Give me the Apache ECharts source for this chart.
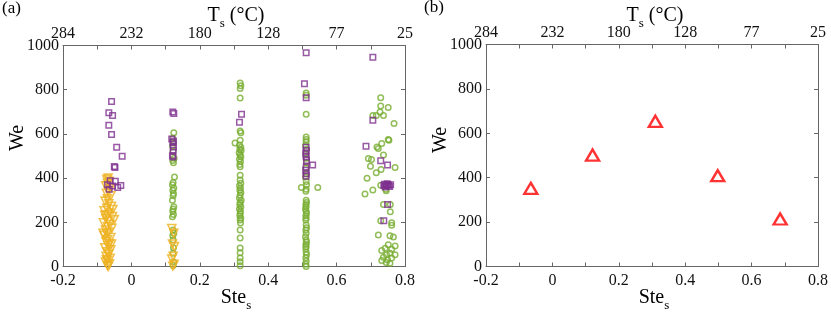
<!DOCTYPE html>
<html>
<head>
<meta charset="utf-8">
<script src="https://cdn.jsdelivr.net/npm/echarts@6/dist/echarts.min.js"></script>
<style>html,body{margin:0;padding:0;background:#fff}#c{width:831px;height:312px}</style>
</head>
<body>
<div id="c"></div>
<script>
// ---- data ----
const xTicksBottom = [-0.2, 0, 0.2, 0.4, 0.6, 0.8];
const tsTickLabels = ['284', '232', '180', '128', '77', '25'];

// Panel (a): yellow open down-triangles
const yellowX = [-0.068,-0.072,-0.065,-0.070,-0.075,-0.062,-0.068,-0.073,-0.060,-0.070,-0.077,-0.066,-0.058,-0.072,-0.080,-0.064,-0.070,-0.055,-0.075,-0.068,-0.082,-0.062,-0.070,-0.057,-0.076,-0.066,-0.072,-0.080,-0.060,-0.070,-0.074,-0.064,-0.068,-0.078,-0.060,-0.072,-0.066,-0.074,-0.062,-0.070,-0.076,-0.064,-0.070,-0.068,-0.054,-0.078,-0.050,-0.083,-0.058,-0.073,
  0.118,0.124,0.120,0.126,0.122,0.118,0.125,0.121];
const yellowY = [400,393,386,376,365,352,342,331,320,306,296,284,272,263,252,242,234,226,216,206,198,190,181,173,165,156,148,140,131,121,112,104,95,85,76,66,56,46,37,28,20,12,5,0,258,232,212,150,102,30,
  172,150,102,90,46,34,10,2];

// Panel (a): purple open squares
const purpleX = [-0.058,-0.066,-0.055,-0.066,-0.058,-0.043,-0.027,-0.050,-0.048,-0.062,-0.047,-0.070,-0.031,-0.055,-0.040,-0.065,
  0.121,0.124,0.118,0.123,0.121,0.123,0.122,0.120,0.122,
  0.322,0.316,
  0.511,0.506,0.511,0.511,0.511,0.510,0.511,0.512,0.530,0.511,0.510,0.511,0.511,
  0.706,0.706,0.686,0.729,0.749,0.740,0.745,0.750,0.755,0.748,0.742,0.752,0.758,0.745,0.738,0.749,0.738];
const purpleY = [747,696,683,639,597,540,499,453,448,388,386,370,367,364,358,350,
  699,692,577,568,561,541,526,501,496,
  689,653,
  967,827,764,540,525,510,495,480,459,450,435,420,408,
  947,662,544,478,459,372,365,370,362,375,360,368,370,368,366,280,207];

// Panel (a): green open circles
const greenX = [0.124,0.121,0.123,0.120,0.122,0.125,0.121,0.123,0.126,0.122,0.120,0.124,0.121,0.123,0.122,0.120,0.124,0.122,0.121,0.123,0.120,0.122,0.124,0.121,0.122,0.123,0.122,0.124,0.122,
  0.318,0.320,0.318,0.318,0.318,0.320,0.318,0.303,0.316,0.320,0.317,0.321,0.315,0.318,0.320,0.316,0.319,0.317,0.318,0.318,0.318,0.320,0.316,0.319,0.317,0.320,0.318,0.316,0.321,0.318,0.317,0.320,0.316,0.319,0.318,0.317,0.320,0.318,0.319,0.318,0.318,0.318,0.318,0.318,0.318,0.318,
  0.511,0.511,0.511,0.511,0.511,0.511,0.509,0.512,0.510,0.511,0.512,0.510,0.511,0.509,0.511,0.512,0.497,0.545,0.511,0.510,0.511,0.512,0.510,0.511,0.509,0.511,0.512,0.510,0.511,0.510,0.511,0.512,0.510,0.511,0.509,0.511,0.512,0.510,0.511,0.510,0.511,0.512,0.510,0.511,0.510,0.511,
  0.729,0.729,0.751,0.727,0.716,0.706,0.737,0.768,0.753,0.751,0.732,0.718,0.722,0.737,0.693,0.702,0.699,0.771,0.730,0.716,0.689,0.706,0.683,0.729,0.744,0.745,0.737,0.757,0.757,0.729,0.761,0.761,0.722,0.756,0.766,
  0.751,0.771,0.742,0.761,0.732,0.756,0.771,0.746,0.737,0.761,0.749,0.732,0.745,0.756];
const greenY = [605,580,560,545,520,490,480,470,405,380,370,355,345,330,320,300,270,260,250,235,225,165,150,140,120,85,60,20,5,
  830,818,805,762,613,605,571,559,550,540,530,525,515,505,495,485,475,462,451,413,391,377,365,355,345,335,322,310,300,290,280,270,260,250,240,230,220,210,197,165,129,84,62,39,21,3,
  785,775,689,586,575,564,548,530,510,490,470,445,420,405,385,370,358,358,350,340,300,290,280,270,260,250,240,230,220,210,188,175,165,150,135,120,110,100,90,80,65,53,40,25,10,0,
  764,726,719,699,683,683,683,647,571,575,557,541,534,504,489,484,454,448,439,424,399,346,328,368,349,343,280,280,248,207,198,187,143,139,133,
  98,93,83,78,72,60,53,53,42,38,30,27,18,15];

// Panel (b): red open triangles
const redX = [-0.065, 0.121, 0.310, 0.498, 0.686];
const redY = [352, 502, 654, 409, 214];

// ---- chart ----
const zip = (xs, ys) => xs.map((x, i) => [x, ys[i]]);
const FONT = 'Liberation Serif';
const AX = '#666666';
const PURPLE = '#7E2F8E', YELLOW = '#EDB120', GREEN = '#77AC30', RED = '#FF0000';
const TICKFS = 16;

function tsFmt(v) {
  const i = Math.round((v + 0.2) / 0.2);
  return (Math.abs(v - xTicksBottom[i]) < 1e-6) ? tsTickLabels[i] : '';
}
function stFmt(v) {
  const r = Math.round(v * 10) / 10;
  return r === 0 ? '0' : String(r);
}
function yFmt(v) { return String(Math.round(v)); }

const grids = [
  { left: 63, top: 45.5, width: 342, height: 221 },
  { left: 486, top: 44.5, width: 332, height: 222 }
];

const xAxes = [], yAxes = [];
grids.forEach((g, gi) => {
  const base = {
    type: 'value', min: -0.2, max: 0.8, interval: 0.2, gridIndex: gi,
    axisLine: { show: true, onZero: false, lineStyle: { color: AX, width: 1 } },
    axisTick: { show: true, inside: true, length: 4, lineStyle: { color: AX } },
    minorTick: { show: true, splitNumber: 2, length: 4, lineStyle: { color: AX } },
    splitLine: { show: false },
  };
  xAxes.push(Object.assign({}, base, {
    position: 'bottom',
    axisLabel: { color: '#111', fontFamily: FONT, fontSize: TICKFS, margin: 6, formatter: stFmt }
  }));
  xAxes.push(Object.assign({}, base, {
    position: 'top',
    axisLabel: { color: '#111', fontFamily: FONT, fontSize: TICKFS, margin: 4, formatter: tsFmt }
  }));
  const ybase = {
    type: 'value', min: 0, max: 1000, interval: 200, gridIndex: gi,
    axisLine: { show: true, onZero: false, lineStyle: { color: AX, width: 1 } },
    axisTick: { show: true, inside: true, length: 4, lineStyle: { color: AX } },
    splitLine: { show: false },
  };
  yAxes.push(Object.assign({}, ybase, {
    position: 'left',
    axisLabel: { color: '#111', fontFamily: FONT, fontSize: TICKFS, margin: 4, formatter: yFmt }
  }));
  yAxes.push(Object.assign({}, ybase, {
    position: 'right',
    axisLabel: { show: false }
  }));
});

function openStyle(c, w) {
  return { color: 'rgba(0,0,0,0)', borderColor: c, borderWidth: w };
}

const series = [
  { type: 'scatter', xAxisIndex: 0, yAxisIndex: 0, data: zip(greenX, greenY),
    symbol: 'circle', symbolSize: 5.5, itemStyle: openStyle(GREEN, 1.5), silent: true },
  { type: 'scatter', xAxisIndex: 0, yAxisIndex: 0, data: zip(yellowX, yellowY),
    symbol: 'triangle', symbolRotate: 180, symbolSize: 8, itemStyle: openStyle(YELLOW, 1.6), silent: true },
  { type: 'scatter', xAxisIndex: 0, yAxisIndex: 0, data: zip(purpleX, purpleY),
    symbol: 'rect', symbolSize: 5.5, itemStyle: openStyle(PURPLE, 1.5), silent: true },
  { type: 'scatter', xAxisIndex: 2, yAxisIndex: 2, data: zip(redX, redY),
    symbol: 'triangle', symbolSize: [13, 11], itemStyle: openStyle(RED, 2.4), silent: true },
];

const rich = {
  a: { fontFamily: FONT, fontSize: 20, color: '#000', lineHeight: 22, verticalAlign: 'bottom' },
  s: { fontFamily: FONT, fontSize: 13, color: '#000', lineHeight: 22, verticalAlign: 'bottom', padding: [0, 0, -4, 0] }
};
function txt(x, y, text, extra) {
  return Object.assign({
    type: 'text', x: x, y: y, silent: true,
    style: { text: text, rich: rich, align: 'center', verticalAlign: 'middle', fill: '#000', fontFamily: FONT, fontSize: 20 }
  }, extra || {});
}

const graphic = [
  { type: 'text', x: 2, y: 0, silent: true, style: { text: '(a)', fontFamily: FONT, fontSize: 17, fill: '#000' } },
  { type: 'text', x: 424, y: -1, silent: true, style: { text: '(b)', fontFamily: FONT, fontSize: 17, fill: '#000' } },
  txt(236, 15, '{a|T}{s|s}{a| (°C)}'),
  txt(655, 15, '{a|T}{s|s}{a| (°C)}'),
  txt(236, 297, '{a|Ste}{s|s}'),
  txt(654, 297, '{a|Ste}{s|s}'),
  txt(17, 138, '{a|We}', { rotation: Math.PI / 2 }),
  txt(440, 140, '{a|We}', { rotation: Math.PI / 2 }),
];

const chart = echarts.init(document.getElementById('c'), null, { renderer: 'canvas' });
chart.setOption({
  animation: false,
  backgroundColor: '#fff',
  grid: grids,
  xAxis: xAxes,
  yAxis: yAxes,
  series: series,
  graphic: graphic
});
</script>
</body>
</html>
